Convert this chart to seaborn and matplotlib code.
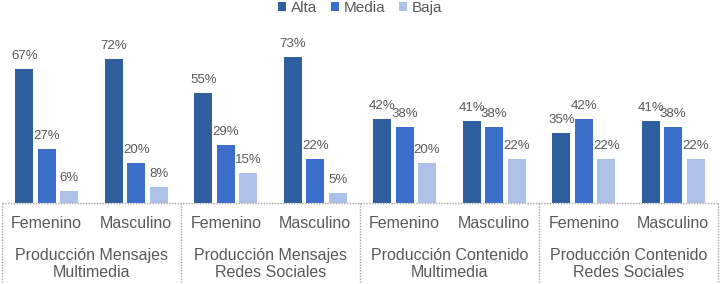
import matplotlib
matplotlib.use("Agg")
import matplotlib.pyplot as plt
import matplotlib.transforms as mtransforms
import seaborn as sns
import pandas as pd

# ---- data ----
groups = ["Producción Mensajes\nMultimedia", "Producción Mensajes\nRedes Sociales",
          "Producción Contenido\nMultimedia", "Producción Contenido\nRedes Sociales"]
genders = ["Femenino", "Masculino"]
levels = ["Alta", "Media", "Baja"]
alta = [67, 72, 55, 73, 42, 41, 35, 41]
media = [27, 20, 29, 22, 38, 38, 42, 38]
baja = [6, 8, 15, 5, 20, 22, 22, 22]
colors = ["#2F5F9E", "#3C6FCB", "#AEC1E8"]

rows = []
for i in range(8):
    for lvl, vals in zip(levels, [alta, media, baja]):
        rows.append({"cat": i, "nivel": lvl, "val": vals[i]})
df = pd.DataFrame(rows)

sns.set_style("white")
plt.rcParams["font.family"] = ["Liberation Sans", "DejaVu Sans"]
txt_color = "#595959"

fig = plt.figure(figsize=(7.2, 2.84), dpi=100)
ax = fig.add_axes([2 / 720, (284 - 203) / 284, 716 / 720, 200 / 284])

sns.barplot(data=df, x="cat", y="val", hue="nivel", hue_order=levels,
            palette=colors, width=0.75, gap=0.2, ax=ax, legend=True,
            linewidth=0, saturation=1)

ax.set_xlim(-0.5, 7.5)
ax.set_ylim(0, 100)
for s in ax.spines.values():
    s.set_visible(False)
ax.set_yticks([])
ax.set_xticks([])
ax.set_xlabel("")
ax.set_ylabel("")

for cont in ax.containers:
    ax.bar_label(cont, fmt="%d%%", padding=5, fontsize=9.5, color=txt_color)

# baseline and separators
ax.axhline(0, color="#A6A6A6", lw=1, ls=(0, (1, 1)), clip_on=False)
trans = mtransforms.blended_transform_factory(ax.transData, ax.transAxes)
for xs in [-0.5, 1.5, 3.5, 5.5, 7.5]:
    ax.plot([xs, xs], [0, -0.41], transform=trans, color="#A6A6A6", lw=1,
            ls=(0, (1, 1)), clip_on=False)

for i in range(8):
    ax.text(i, -0.105, genders[i % 2], transform=trans, ha="center", va="center",
            fontsize=11.5, color=txt_color)
for g, name in enumerate(groups):
    ax.text(2 * g + 0.5, -0.305, name, transform=trans, ha="center", va="center",
            fontsize=11.5, color=txt_color, linespacing=1.15)

handles, labels = ax.get_legend_handles_labels()
ax.legend_.remove()
fig.legend(handles, labels, loc="center", bbox_to_anchor=(0.5, 1 - 8 / 284),
           ncol=3, frameon=False, fontsize=11, handlelength=0.55, handleheight=0.55,
           handletextpad=0.3, columnspacing=0.9, labelcolor=txt_color)

fig.savefig("out.png", dpi=100)
